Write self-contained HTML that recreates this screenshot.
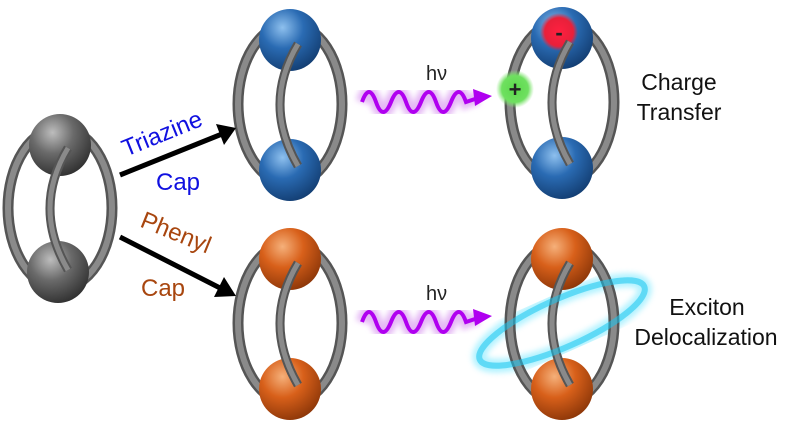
<!DOCTYPE html>
<html><head><meta charset="utf-8"><style>
html,body{margin:0;padding:0;background:#fff;}
svg{display:block;}
text{font-family:"Liberation Sans",sans-serif;}
</style></head><body>
<svg width="790" height="423" viewBox="0 0 790 423" xmlns="http://www.w3.org/2000/svg">
<defs>
<radialGradient id="gg" cx="0.38" cy="0.3" r="0.75"><stop offset="0" stop-color="#bdbdbd"/><stop offset="0.45" stop-color="#6a6a6a"/><stop offset="1" stop-color="#2e2e2e"/></radialGradient>
<radialGradient id="gb" cx="0.38" cy="0.3" r="0.75"><stop offset="0" stop-color="#8ec0ee"/><stop offset="0.45" stop-color="#2a6bb3"/><stop offset="1" stop-color="#123c70"/></radialGradient>
<radialGradient id="go" cx="0.38" cy="0.3" r="0.75"><stop offset="0" stop-color="#f5b07a"/><stop offset="0.45" stop-color="#d8601a"/><stop offset="1" stop-color="#8a3508"/></radialGradient>
<radialGradient id="gr" cx="0.5" cy="0.5" r="0.5"><stop offset="0" stop-color="#ff2040"/><stop offset="0.75" stop-color="#e8203a"/><stop offset="1" stop-color="#e8203a" stop-opacity="0"/></radialGradient>
<radialGradient id="ggr" cx="0.5" cy="0.5" r="0.5"><stop offset="0" stop-color="#5cd84c"/><stop offset="0.7" stop-color="#6fe060"/><stop offset="1" stop-color="#8fe880" stop-opacity="0"/></radialGradient>
<filter id="blur"><feGaussianBlur stdDeviation="3"/></filter>
<g id="loop">
<ellipse cx="0" cy="0" rx="52" ry="80" fill="none" stroke="#555" stroke-width="11"/>
<ellipse cx="0" cy="0" rx="52" ry="80" fill="none" stroke="#8a8a8a" stroke-width="6"/>
</g>
<g id="mid"><path d="M8,-60 Q-28,0 8,62" fill="none" stroke="#555" stroke-width="9"/><path d="M8,-60 Q-28,0 8,62" fill="none" stroke="#8a8a8a" stroke-width="5"/></g>
<g id="wave">
<path d="M0,4 q7,-20 14,0 t15,0 t15,0 t15,0 t15,0 t15,0 t15,0 L116,0" fill="none" stroke="#e5b8f5" stroke-width="13" filter="url(#blur)"/>
<path d="M0,4 q7,-20 14,0 t15,0 t15,0 t15,0 t15,0 t15,0 t15,0 L116,0" fill="none" stroke="#b000f0" stroke-width="4"/>
<polygon points="111,-9 130,-2 113,8" fill="#b000f0"/>
</g>
</defs>

<!-- gray molecule -->
<g transform="translate(60,208)"><use href="#loop"/><circle cx="0" cy="-63" r="31" fill="url(#gg)"/><circle cx="-2" cy="64" r="31" fill="url(#gg)"/><use href="#mid"/></g>

<!-- blue top -->
<g transform="translate(290,104)"><use href="#loop"/><circle cx="0" cy="-64" r="31" fill="url(#gb)"/><circle cx="0" cy="66" r="31" fill="url(#gb)"/><use href="#mid"/></g>
<!-- blue right -->
<g transform="translate(562,102)"><use href="#loop"/><circle cx="0" cy="-64" r="31" fill="url(#gb)"/><circle cx="-3" cy="-70" r="19" fill="url(#gr)"/><circle cx="0" cy="66" r="31" fill="url(#gb)"/><use href="#mid"/>
<text x="-3" y="-62" font-size="22" font-weight="bold" text-anchor="middle" fill="#222">-</text></g>
<circle cx="515" cy="89" r="19" fill="url(#ggr)"/>
<text x="515" y="97" font-size="22" font-weight="bold" text-anchor="middle" fill="#222">+</text>

<!-- orange -->
<g transform="translate(290,323)"><use href="#loop"/><circle cx="0" cy="-64" r="31" fill="url(#go)"/><circle cx="0" cy="66" r="31" fill="url(#go)"/><use href="#mid"/></g>
<g transform="translate(562,323)">
<ellipse cx="0" cy="0" rx="90" ry="24" transform="rotate(-24)" fill="none" stroke="#80eaff" stroke-width="14" opacity="0.6" filter="url(#blur)"/>
<use href="#loop"/><circle cx="0" cy="-64" r="31" fill="url(#go)"/><circle cx="0" cy="66" r="31" fill="url(#go)"/><use href="#mid"/>
<ellipse cx="0" cy="0" rx="90" ry="24" transform="rotate(-24)" fill="none" stroke="#18c4ee" stroke-width="6" opacity="0.55"/>
</g>

<!-- arrows -->
<line x1="120" y1="175" x2="222" y2="134" stroke="#000" stroke-width="5"/>
<polygon points="236,128 216,124 224,145" fill="#000"/>
<line x1="120" y1="237" x2="222" y2="289" stroke="#000" stroke-width="5"/>
<polygon points="236,296 224,277 214,297" fill="#000"/>
<text transform="translate(165,141) rotate(-22)" font-size="24" fill="#1010e0" text-anchor="middle">Triazine</text>
<text x="178" y="190" font-size="24" fill="#1010e0" text-anchor="middle">Cap</text>
<text transform="translate(173,240) rotate(22)" font-size="24" fill="#a8460f" text-anchor="middle">Phenyl</text>
<text x="163" y="296" font-size="24" fill="#a8460f" text-anchor="middle">Cap</text>

<!-- waves -->
<g transform="translate(362,98)"><use href="#wave"/></g>
<g transform="translate(362,318)"><use href="#wave"/></g>
<text x="426" y="80" font-size="20" fill="#222" font-family="Liberation Serif">hν</text>
<text x="426" y="300" font-size="20" fill="#222" font-family="Liberation Serif">hν</text>

<text x="679" y="90" font-size="23" fill="#111" text-anchor="middle">Charge</text>
<text x="679" y="120" font-size="23" fill="#111" text-anchor="middle">Transfer</text>
<text x="707" y="315" font-size="23" fill="#111" text-anchor="middle">Exciton</text>
<text x="706" y="345" font-size="23" fill="#111" text-anchor="middle">Delocalization</text>
</svg>
</body></html>
